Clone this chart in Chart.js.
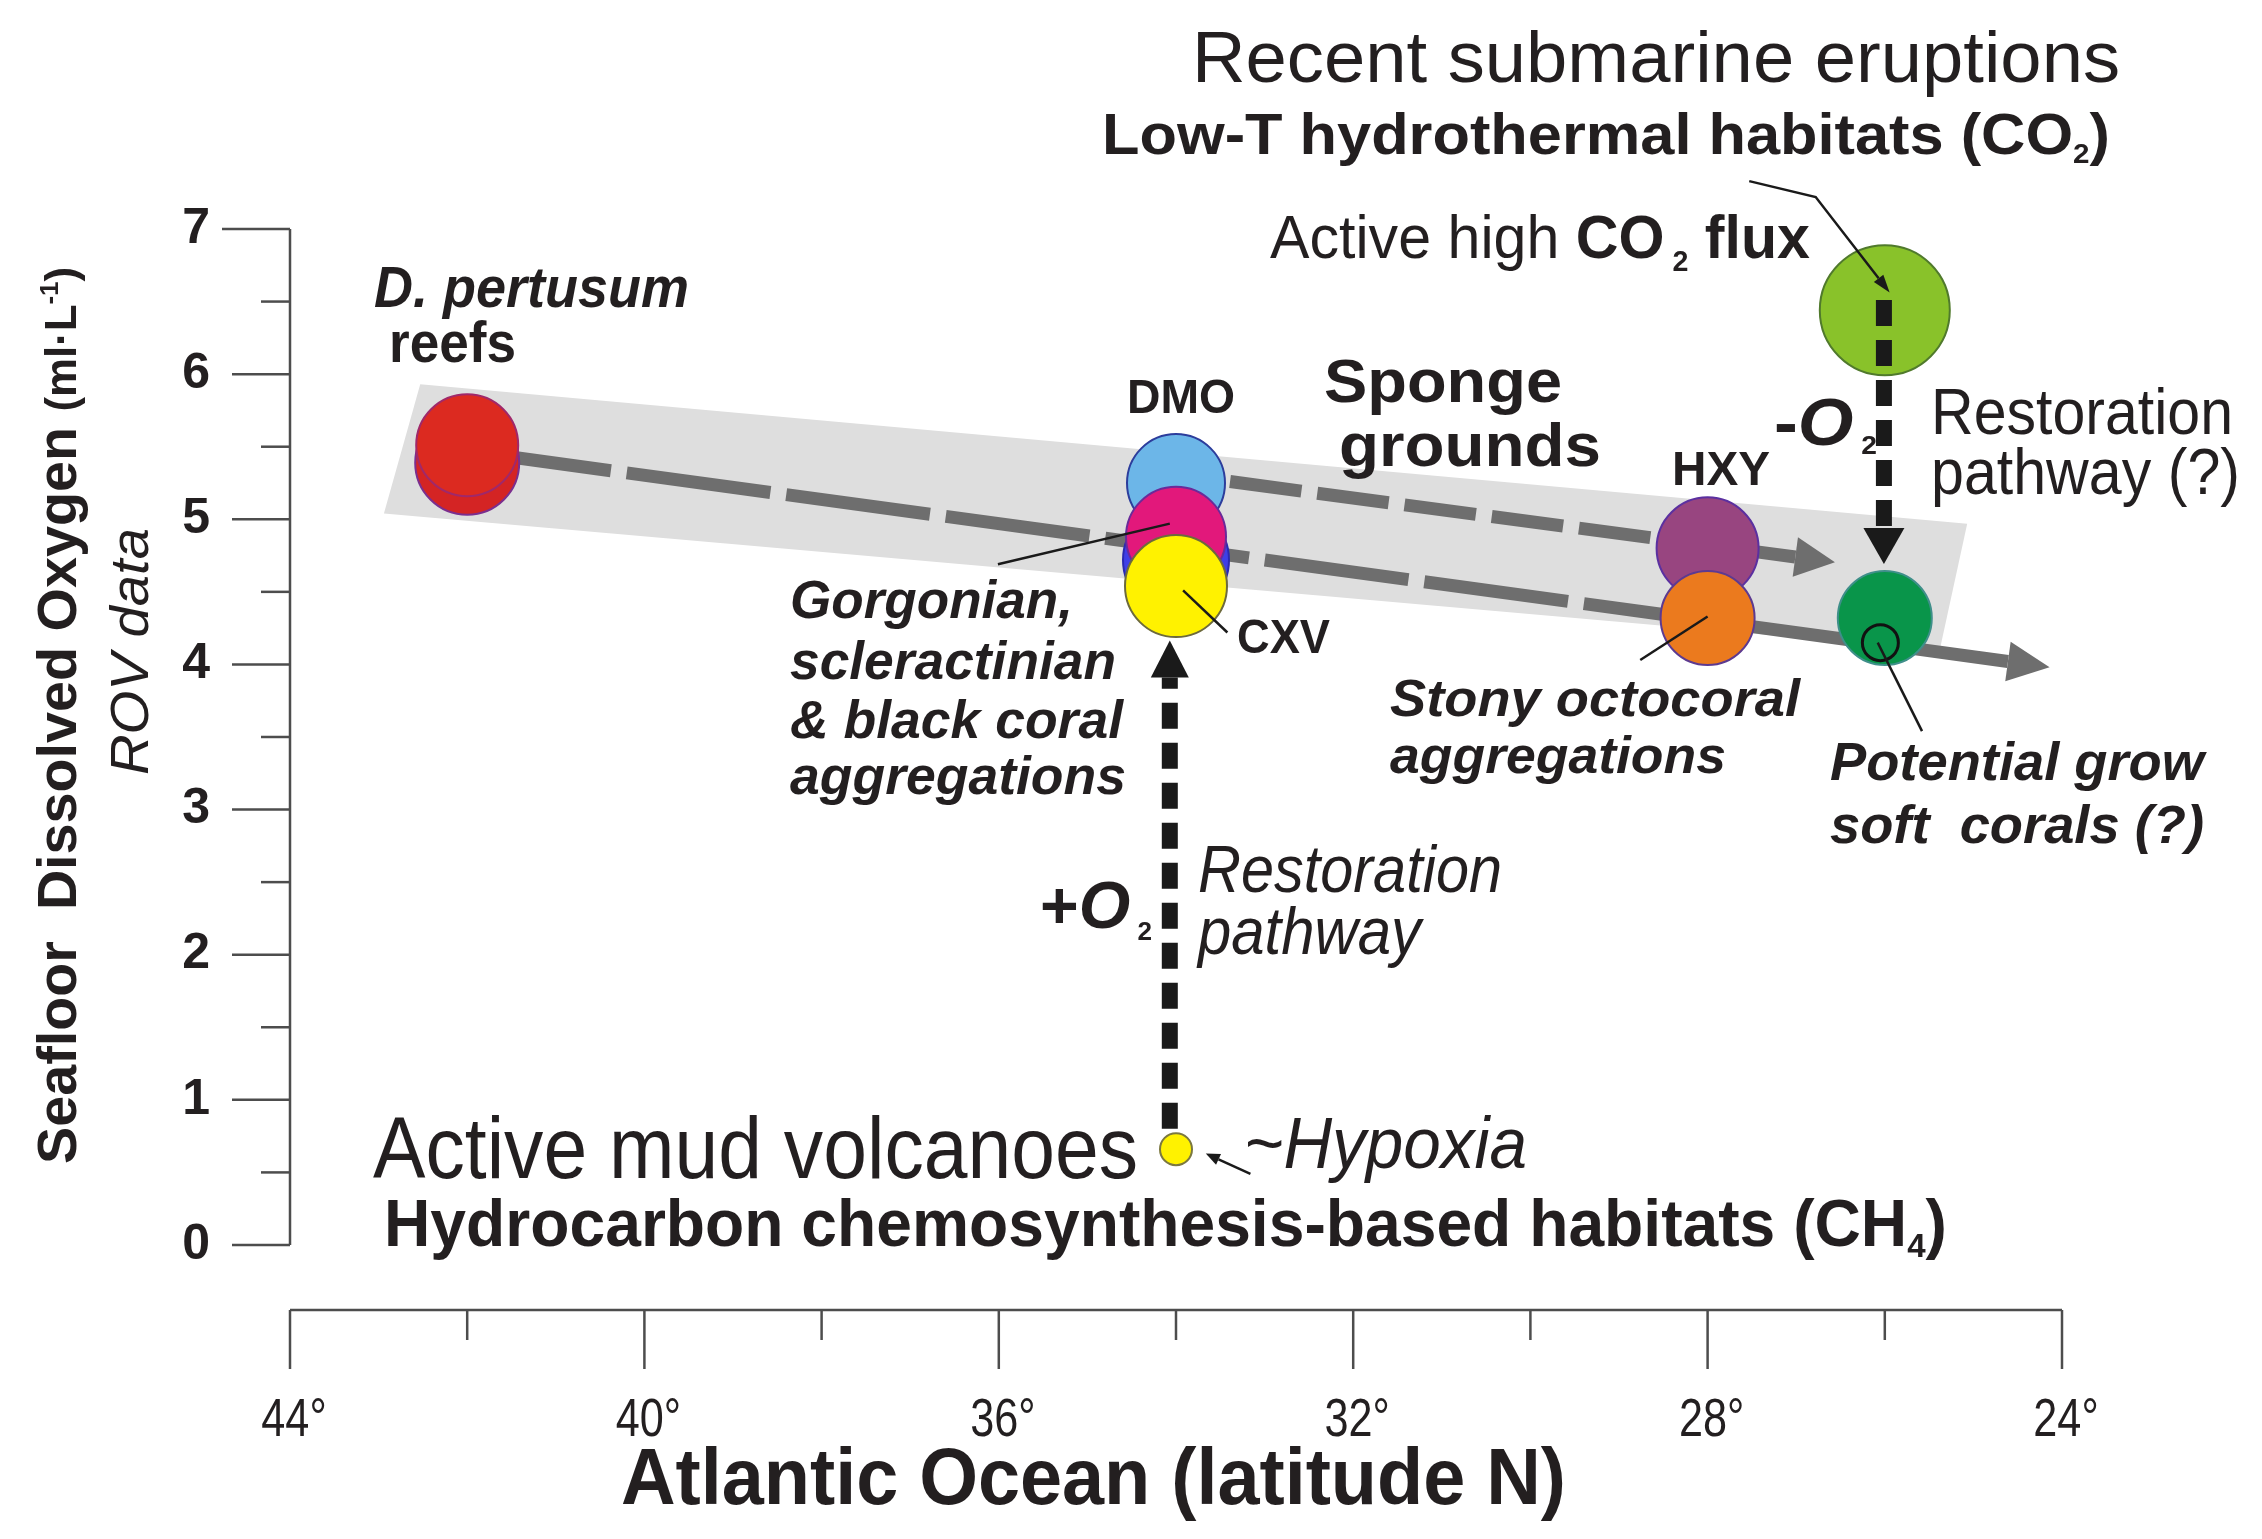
<!DOCTYPE html>
<html>
<head>
<meta charset="utf-8">
<script src="https://cdn.jsdelivr.net/npm/chart.js@4.4.1/dist/chart.umd.min.js"></script>
<style>
  html, body { margin: 0; padding: 0; background: #fff; }
</style>
</head>
<body>
<canvas id="c" width="2262" height="1539"></canvas>
<script>
// ---- data (latitude in degrees N, dissolved oxygen in ml/L) ----
const siteNames = ['D. pertusum rim', 'D. pertusum', 'DMO', 'DMO (behind)', 'Gorgonian', 'CXV',
                   'HXY', 'Stony octocoral', 'CO2 vent', 'Soft corals', 'Soft corals ring', 'Mud volcano'];
const siteLat = [42, 42, 34, 34, 34, 34, 28, 28, 26, 26, 26.05, 34];
const siteDO  = [5.39, 5.51, 5.25, 4.72, 4.88, 4.54, 4.80, 4.32, 6.44, 4.32, 4.15, 0.66];

// sponge ground envelope (grey band corners)
const bandLat = [42.53, 25.07, 25.38, 42.94];
const bandDO  = [5.93, 4.97, 4.10, 5.04];

// grey trend arrows (shaft start / shaft end)
const lowerTrendLat = [42.0, 24.61];
const lowerTrendDO  = [5.47, 4.02];
const upperTrendLat = [33.39, 27.01];
const upperTrendDO  = [5.26, 4.74];

// black restoration pathways
const hypoxiaPathLat = [34.07, 34.07];
const hypoxiaPathDO  = [0.80, 3.91];
const ventPathLat = [26.01, 26.01];
const ventPathDO  = [6.51, 4.94];

// leader lines
const gorgLeaderLat = [36.01, 34.07];   const gorgLeaderDO = [4.69, 4.97];
const cxvLeaderLat  = [33.92, 33.42];   const cxvLeaderDO  = [4.51, 4.22];
const stonyLeaderLat = [28.76, 28.00];  const stonyLeaderDO = [4.03, 4.33];
const softLeaderLat = [26.08, 25.58];   const softLeaderDO  = [4.15, 3.54];
const ventLeaderLat = [27.53, 26.78, 26.07]; const ventLeaderDO = [7.33, 7.22, 6.66];
const hypLeaderLat  = [33.16, 33.52];   const hypLeaderDO  = [0.49, 0.59];

// ticks
const xTickValues = [44, 40, 36, 32, 28, 24];
const xMinorTicks = [42, 38, 34, 30, 26];
const yTickValues = [0, 1, 2, 3, 4, 5, 6, 7];
const yMinorTicks = [0.5, 1.5, 2.5, 3.5, 4.5, 5.5, 6.5];

// ---- styles ----
const siteRadius = [52, 51, 49, 53, 50, 51, 51, 47, 65, 47, 18, 16];
const siteFill = ['#d42424', '#dc2a20', '#6cb6e8', '#3f3fe6', '#e2187b', '#fff200',
                  '#984580', '#eb7a1e', '#89c22a', '#09954a', 'rgba(0,0,0,0)', '#fff200'];
const siteBorder = ['#7b2e8e', '#a0286a', '#2c3d9c', '#2a2ab0', '#6a2a9a', '#6d6a3c',
                    '#5b30a0', '#5d3a90', '#507a2c', '#3f8f8a', '#111111', '#7b7840'];
const siteBorderW = [2, 2, 2, 2, 2, 2, 2, 2, 2, 2, 3, 2];

const SANS = '"Liberation Sans", Arial, Helvetica, sans-serif';
const N  = s => 'normal ' + s + 'px ' + SANS;
const B  = s => 'bold ' + s + 'px ' + SANS;
const I  = s => 'italic ' + s + 'px ' + SANS;
const BI = s => 'italic bold ' + s + 'px ' + SANS;
const INK = '#231f20';

function pts(lat, val) {
  return lat.map((v, i) => ({ x: v, y: val[i] }));
}

function lineSet(lat, val, color, width, dash, order, arrow) {
  return {
    data: pts(lat, val),
    borderColor: color,
    borderWidth: width,
    borderDash: dash || [],
    borderCapStyle: 'butt',
    pointRadius: 0,
    showLine: true,
    fill: false,
    clip: false,
    order: order,
    arrow: arrow
  };
}

// text annotations: left x, baseline y, target width
const texts = [
  { x: 1192, y: 82, w: 928, parts: [['Recent submarine eruptions', N(73)]] },
  { x: 1102, y: 154, w: 1008, parts: [['Low-T hydrothermal habitats (CO', B(58)], ['2', B(28), 9], [')', B(58)]] },
  { x: 1270, y: 258, w: 540, parts: [['Active high ', N(62)], ['CO', B(62)], [' 2', B(30), 13], [' flux', B(62)]] },
  { x: 374, y: 307, w: 315, parts: [['D. pertusum', BI(58)]] },
  { x: 389, y: 362, w: 127, parts: [['reefs', B(58)]] },
  { x: 1127, y: 413, w: 108, parts: [['DMO', B(48)]] },
  { x: 1324, y: 402, w: 238, parts: [['Sponge', B(62)]] },
  { x: 1339, y: 466, w: 262, parts: [['grounds', B(62)]] },
  { x: 1672, y: 485, w: 98, parts: [['HXY', B(48)]] },
  { x: 1774, y: 445, w: 103, parts: [['-', B(66)], ['O', BI(66)], [' 2', B(26), 9]] },
  { x: 1931, y: 434, w: 302, parts: [['Restoration', N(64)]] },
  { x: 1931, y: 494, w: 309, parts: [['pathway (?)', N(64)]] },
  { x: 790, y: 618, w: 283, parts: [['Gorgonian,', BI(53)]] },
  { x: 790, y: 679, w: 326, parts: [['scleractinian', BI(53)]] },
  { x: 790, y: 738, w: 333, parts: [['& black coral', BI(53)]] },
  { x: 790, y: 794, w: 336, parts: [['aggregations', BI(53)]] },
  { x: 1237, y: 653, w: 93, parts: [['CXV', B(48)]] },
  { x: 1390, y: 716, w: 410, parts: [['Stony octocoral', BI(52)]] },
  { x: 1390, y: 773, w: 336, parts: [['aggregations', BI(52)]] },
  { x: 1830, y: 780, w: 374, parts: [['Potential grow', BI(53)]] },
  { x: 1830, y: 843, w: 374, parts: [['soft  corals (?)', BI(53)]] },
  { x: 1040, y: 928, w: 112, parts: [['+', B(66)], ['O', BI(66)], [' 2', B(26), 12]] },
  { x: 1198, y: 892, w: 304, parts: [['Restoration', I(66)]] },
  { x: 1198, y: 954, w: 223, parts: [['pathway', I(66)]] },
  { x: 373, y: 1178, w: 765, parts: [['Active mud volcanoes', N(88)]] },
  { x: 1244, y: 1168, w: 283, parts: [['~Hypoxia', I(72)]] },
  { x: 384, y: 1246, w: 1563, parts: [['Hydrocarbon chemosynthesis-based habitats (CH', B(66)], ['4', B(34), 11], [')', B(66)]] },
  { x: 621, y: 1504, w: 945, parts: [['Atlantic Ocean (latitude N)', B(80)]] },
  { x: 76, y: 1164, w: 897, rot: -Math.PI / 2,
    parts: [['Seafloor  Dissolved Oxygen ', B(56)], ['(ml\u00b7L', B(44)], ['-1', B(26), -18], [')', B(44)]] },
  { x: 148, y: 775, w: 247, rot: -Math.PI / 2, parts: [['ROV data', I(54)]] }
];

function drawRich(ctx, t) {
  ctx.save();
  let total = 0;
  t.parts.forEach(p => { ctx.font = p[1]; total += ctx.measureText(p[0]).width; });
  ctx.translate(t.x, t.y);
  if (t.rot) ctx.rotate(t.rot);
  ctx.scale(t.w / total, 1);
  ctx.fillStyle = INK;
  ctx.textAlign = 'left';
  ctx.textBaseline = 'alphabetic';
  let cx = 0;
  t.parts.forEach(p => {
    ctx.font = p[1];
    ctx.fillText(p[0], cx, p[2] || 0);
    cx += ctx.measureText(p[0]).width;
  });
  ctx.restore();
}

function seg(ctx, x1, y1, x2, y2) {
  ctx.beginPath(); ctx.moveTo(x1, y1); ctx.lineTo(x2, y2); ctx.stroke();
}

const axesPlugin = {
  id: 'axes',
  beforeDatasetsDraw(chart) {
    const ctx = chart.ctx, xs = chart.scales.x, ys = chart.scales.y;
    const left = chart.chartArea.left, bottom = chart.chartArea.bottom;
    ctx.save();
    ctx.strokeStyle = '#4d4d4d';
    ctx.lineWidth = 2.5;
    seg(ctx, left, ys.getPixelForValue(0), left, ys.getPixelForValue(7));
    yTickValues.forEach(v => {
      const p = ys.getPixelForValue(v);
      seg(ctx, left - (v === 7 ? 68 : 58), p, left, p);
    });
    yMinorTicks.forEach(v => {
      const p = ys.getPixelForValue(v);
      seg(ctx, left - 29, p, left, p);
    });
    seg(ctx, xs.getPixelForValue(44), bottom, xs.getPixelForValue(24), bottom);
    xTickValues.forEach(v => {
      const p = xs.getPixelForValue(v);
      seg(ctx, p, bottom, p, bottom + 59);
    });
    xMinorTicks.forEach(v => {
      const p = xs.getPixelForValue(v);
      seg(ctx, p, bottom, p, bottom + 30);
    });
    // x tick labels in a condensed face
    ctx.fillStyle = INK;
    ctx.font = N(54);
    ctx.textAlign = 'center';
    ctx.textBaseline = 'alphabetic';
    xTickValues.forEach(v => {
      const p = xs.getPixelForValue(v);
      ctx.save();
      ctx.translate(p + 4, bottom + 126);
      ctx.scale(0.8, 1);
      ctx.fillText(v + '\u00b0', 0, 0);
      ctx.restore();
    });
    ctx.restore();
  }
};

const arrowPlugin = {
  id: 'arrows',
  afterDatasetDraw(chart, args) {
    const ds = chart.data.datasets[args.index];
    if (!ds.arrow) return;
    const el = args.meta.data;
    const a = el[el.length - 2], b = el[el.length - 1];
    const dx = b.x - a.x, dy = b.y - a.y, d = Math.hypot(dx, dy);
    const ux = dx / d, uy = dy / d;
    const hw = ds.arrow.width / 2, L = ds.arrow.len;
    const ctx = chart.ctx;
    ctx.save();
    ctx.fillStyle = ds.arrow.color;
    ctx.beginPath();
    ctx.moveTo(b.x + ux * L, b.y + uy * L);
    ctx.lineTo(b.x - uy * hw, b.y + ux * hw);
    ctx.lineTo(b.x + uy * hw, b.y - ux * hw);
    ctx.closePath();
    ctx.fill();
    ctx.restore();
  }
};

const textPlugin = {
  id: 'texts',
  afterDraw(chart) {
    texts.forEach(t => drawRich(chart.ctx, t));
  }
};

const GREY = '#6e6e6e', BLACK = '#1a1a1a';

new Chart(document.getElementById('c'), {
  type: 'line',
  data: {
    datasets: [
      {
        label: 'Sponge grounds',
        data: pts(bandLat, bandDO),
        showLine: true,
        borderWidth: 0,
        borderColor: 'rgba(0,0,0,0)',
        backgroundColor: '#dedede',
        fill: 'shape',
        pointRadius: 0,
        clip: false,
        order: 10
      },
      lineSet(lowerTrendLat, lowerTrendDO, GREY, 13, [145, 16], 9, { len: 42, width: 40, color: GREY }),
      lineSet(upperTrendLat, upperTrendDO, GREY, 13, [72, 16], 9, { len: 40, width: 40, color: GREY }),
      {
        label: 'Sites',
        data: pts(siteLat, siteDO),
        showLine: false,
        pointRadius: siteRadius,
        pointBackgroundColor: siteFill,
        pointBorderColor: siteBorder,
        pointBorderWidth: siteBorderW,
        clip: false,
        order: 5
      },
      lineSet(hypoxiaPathLat, hypoxiaPathDO, BLACK, 16, [26, 14], 3, { len: 37, width: 38, color: BLACK }),
      lineSet(ventPathLat, ventPathDO, BLACK, 16, [26, 14], 3, { len: 36, width: 41, color: BLACK }),
      lineSet(gorgLeaderLat, gorgLeaderDO, BLACK, 2.5, null, 2),
      lineSet(cxvLeaderLat, cxvLeaderDO, BLACK, 2.5, null, 2),
      lineSet(stonyLeaderLat, stonyLeaderDO, BLACK, 2.5, null, 2),
      lineSet(softLeaderLat, softLeaderDO, BLACK, 2.5, null, 2),
      lineSet(ventLeaderLat, ventLeaderDO, BLACK, 2.5, null, 2, { len: 18, width: 12, color: BLACK }),
      lineSet(hypLeaderLat, hypLeaderDO, BLACK, 2.5, null, 2, { len: 14, width: 12, color: BLACK })
    ]
  },
  options: {
    responsive: false,
    devicePixelRatio: 1,
    animation: false,
    events: [],
    layout: { padding: { top: 229, right: 200, left: 0, bottom: 0 } },
    plugins: { legend: { display: false }, tooltip: { enabled: false } },
    scales: {
      x: {
        type: 'linear',
        min: 24,
        max: 44,
        reverse: true,
        afterBuildTicks: s => { s.ticks = xTickValues.map(v => ({ value: v })); },
        afterFit: s => { s.height = 229; },
        grid: { display: false, drawTicks: false },
        border: { display: false },
        ticks: { display: false }
      },
      y: {
        type: 'linear',
        min: -0.448,
        max: 7,
        afterBuildTicks: s => { s.ticks = yTickValues.map(v => ({ value: v })); },
        afterFit: s => { s.width = 290; },
        grid: { display: false, drawTicks: false },
        border: { display: false },
        ticks: {
          padding: 80,
          color: INK,
          font: { family: SANS, size: 50, weight: 'bold' }
        }
      }
    }
  },
  plugins: [axesPlugin, arrowPlugin, textPlugin]
});
</script>
</body>
</html>
